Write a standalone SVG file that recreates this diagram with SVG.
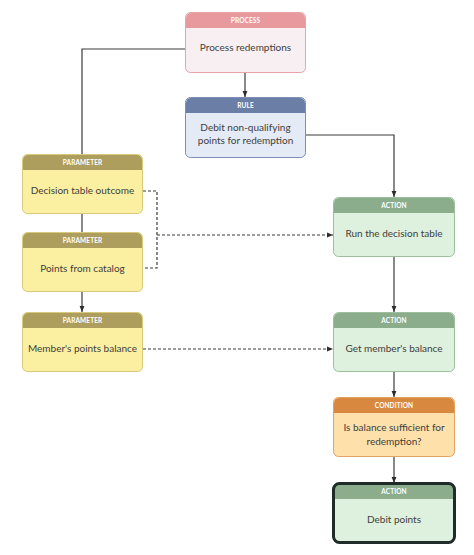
<svg xmlns="http://www.w3.org/2000/svg" width="474" height="555" viewBox="0 0 474 555">
<defs>
<marker id="arr" viewBox="0 0 10 10" refX="10" refY="5" markerWidth="6" markerHeight="6" orient="auto" markerUnits="userSpaceOnUse">
<path d="M0,1 L10,5 L0,9 Z" fill="#2b2b2b"/>
</marker>
</defs>
<style>
.t{font-family:Lato,"Open Sans","Liberation Sans",sans-serif;font-size:10px;fill:#3e3e3c;text-anchor:middle}
.h{font-family:Lato,"Open Sans","Liberation Sans",sans-serif;font-size:6.5px;font-weight:bold;fill:#ffffff;text-anchor:middle;letter-spacing:0.1px}
.ln{fill:none;stroke:#3a3a3a;stroke-width:1.2}
.dl{fill:none;stroke:#3a3a3a;stroke-width:1.2;stroke-dasharray:3,2}
.proc .b{fill:#f7eff2;stroke:#e9a3a7}
.proc .hd{fill:#e8999d}
.rule .b{fill:#e4ebf6;stroke:#7d8fb5}
.rule .hd{fill:#6b7fa6}
.par .b{fill:#fbf0a2;stroke:#d9c97c}
.par .hd{fill:#ae9e5e}
.act .b{fill:#def0de;stroke:#9ebf9e}
.act .hd{fill:#8cad8c}
.cond .b{fill:#fde0aa;stroke:#e1a462}
.cond .hd{fill:#d9893f}
</style>
<rect width="474" height="555" fill="#ffffff"/>
<g id="connectors">
<path class="ln" d="M185,49 H82 V154"/>
<path class="ln" d="M245,72 V97" marker-end="url(#arr)"/>
<path class="ln" d="M305,135 H394 V197" marker-end="url(#arr)"/>
<path class="ln" d="M82,214 V232"/>
<path class="ln" d="M82,292 V312" marker-end="url(#arr)"/>
<path class="dl" d="M143,191 H157 V268 H143"/>
<path class="dl" d="M157,235 H333" marker-end="url(#arr)"/>
<path class="dl" d="M143,349 H333" marker-end="url(#arr)"/>
<path class="ln" d="M394,257 V312" marker-end="url(#arr)"/>
<path class="ln" d="M394,372 V397" marker-end="url(#arr)"/>
<path class="ln" d="M394,457 V483" marker-end="url(#arr)"/>
</g>
<g id="process" class="proc">
<rect class="b" x="185.5" y="12.5" width="120" height="60" rx="5"/>
<path class="hd" d="M186,28 V18 a5,5 0 0 1 5,-5 H300 a5,5 0 0 1 5,5 V28 Z"/>
<text class="h" x="245.5" y="22.8">PROCESS</text>
<text class="t" x="245.5" y="51">Process redemptions</text>
</g>
<g id="rule" class="rule">
<rect class="b" x="185.5" y="97.5" width="120" height="60" rx="5"/>
<path class="hd" d="M186,113 V103 a5,5 0 0 1 5,-5 H300 a5,5 0 0 1 5,5 V113 Z"/>
<text class="h" x="245.5" y="107.8">RULE</text>
<text class="t" x="245.5" y="131">Debit non-qualifying</text>
<text class="t" x="245.5" y="144">points for redemption</text>
</g>
<g id="param1" class="par">
<rect class="b" x="22.5" y="154.5" width="120" height="59" rx="5"/>
<path class="hd" d="M23,170 V160 a5,5 0 0 1 5,-5 H137 a5,5 0 0 1 5,5 V170 Z"/>
<text class="h" x="82.5" y="164.8">PARAMETER</text>
<text class="t" x="82.5" y="194">Decision table outcome</text>
</g>
<g id="param2" class="par">
<rect class="b" x="22.5" y="232.5" width="120" height="59" rx="5"/>
<path class="hd" d="M23,248 V238 a5,5 0 0 1 5,-5 H137 a5,5 0 0 1 5,5 V248 Z"/>
<text class="h" x="82.5" y="242.8">PARAMETER</text>
<text class="t" x="82.5" y="272">Points from catalog</text>
</g>
<g id="param3" class="par">
<rect class="b" x="22.5" y="312.5" width="120" height="59" rx="5"/>
<path class="hd" d="M23,328 V318 a5,5 0 0 1 5,-5 H137 a5,5 0 0 1 5,5 V328 Z"/>
<text class="h" x="82.5" y="322.8">PARAMETER</text>
<text class="t" x="82.5" y="352">Member's points balance</text>
</g>
<g id="action1" class="act">
<rect class="b" x="333.5" y="197.5" width="121" height="59" rx="5"/>
<path class="hd" d="M334,213 V203 a5,5 0 0 1 5,-5 H449 a5,5 0 0 1 5,5 V213 Z"/>
<text class="h" x="394" y="207.8">ACTION</text>
<text class="t" x="394" y="237">Run the decision table</text>
</g>
<g id="action2" class="act">
<rect class="b" x="333.5" y="312.5" width="121" height="59" rx="5"/>
<path class="hd" d="M334,328 V318 a5,5 0 0 1 5,-5 H449 a5,5 0 0 1 5,5 V328 Z"/>
<text class="h" x="394" y="322.8">ACTION</text>
<text class="t" x="394" y="352">Get member's balance</text>
</g>
<g id="condition" class="cond">
<rect class="b" x="333.5" y="397.5" width="121" height="59" rx="5"/>
<path class="hd" d="M334,413 V403 a5,5 0 0 1 5,-5 H449 a5,5 0 0 1 5,5 V413 Z"/>
<text class="h" x="394" y="407.8">CONDITION</text>
<text class="t" x="394" y="431">Is balance sufficient for</text>
<text class="t" x="394" y="445">redemption?</text>
</g>
<g id="action3" class="act">
<rect x="333.5" y="483.5" width="121" height="59" rx="6" fill="#def0de"/>
<path class="hd" d="M334,499 V489 a5,5 0 0 1 5,-5 H449 a5,5 0 0 1 5,5 V499 Z"/>
<rect x="333.5" y="483.5" width="121" height="59" rx="6" fill="none" stroke="#1e2b29" stroke-width="3"/>
<text class="h" x="394" y="494">ACTION</text>
<text class="t" x="394" y="523">Debit points</text>
</g>
</svg>
